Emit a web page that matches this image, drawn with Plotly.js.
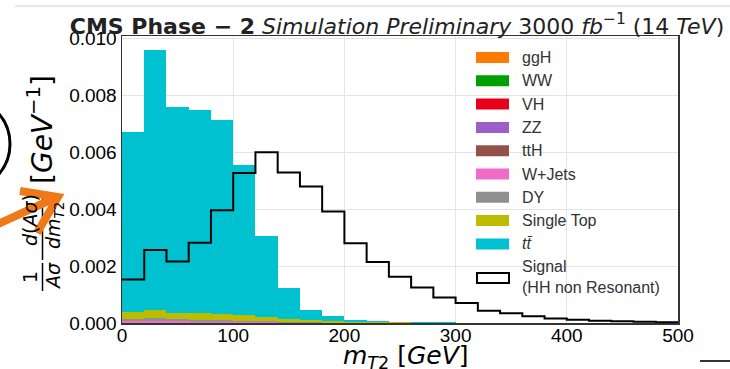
<!DOCTYPE html>
<html>
<head>
<meta charset="utf-8">
<script src="https://cdn.plot.ly/plotly-3.0.1.min.js"></script>
<style>html,body{margin:0;padding:0;background:#fff;}#chart{width:730px;height:369px;}</style>
</head>
<body>
<div id="chart"></div>
<script>
// bin edges (GeV)
const binEdges = [0,20,40,60,80,100,120,140,160,180,200,220,240,260,280,300,320,340,360,380,400,420,440,460,480,500];

// Background names (stack order bottom -> top) and colours
const bkgNames  = ["ggH","WW","VH","ZZ","ttH","W+Jets","DY","Single Top","<i>tt̄</i>"];
const bkgColors = ["#ff7a00","#00a000","#e8001c","#9c5ec8","#92524a","#f06cc8","#909090","#bcbc00","#00c1d0"];

// normalised contributions [1/GeV], one value per 20 GeV bin
const ggH  = [0.000003,0.000003,0.000002,0.000002,0.000002,0.000001,0.000001,0,0,0,0,0,0,0,0,0,0,0,0,0,0,0,0,0,0];
const WW   = [0.000003,0.000003,0.000002,0.000002,0.000002,0.000001,0.000001,0,0,0,0,0,0,0,0,0,0,0,0,0,0,0,0,0,0];
const VH   = [0.000002,0.000002,0.000002,0.000001,0.000001,0.000001,0.000001,0,0,0,0,0,0,0,0,0,0,0,0,0,0,0,0,0,0];
const ZZ   = [0.000005,0.000005,0.000004,0.000004,0.000003,0.000003,0.000002,0.000001,0,0,0,0,0,0,0,0,0,0,0,0,0,0,0,0,0];
const ttH  = [0.000003,0.000003,0.000003,0.000002,0.000002,0.000002,0.000001,0.000001,0,0,0,0,0,0,0,0,0,0,0,0,0,0,0,0,0];
const WJets= [0.00005,0.00005,0.00004,0.00004,0.00003,0.00003,0.00002,0.00001,0.00001,0.000005,0.000003,0,0,0,0,0,0,0,0,0,0,0,0,0,0];
const DY   = [0.00009,0.00011,0.00008,0.00007,0.00007,0.00005,0.00004,0.00003,0.00002,0.00001,0.00001,0.000005,0.000003,0,0,0,0,0,0,0,0,0,0,0,0];
const singleTop = [0.00023,0.00029,0.00023,0.00022,0.00022,0.00020,0.00014,0.00009,0.00007,0.00005,0.00003,0.00002,0.000015,0.00001,0.00001,0.000005,0.000004,0.000003,0.000002,0.000001,0,0,0,0,0];
const ttbar = [0.00635,0.00913,0.00723,0.00716,0.00680,0.00526,0.00286,0.00110,0.00037,0.00017,0.00005,0.00003,0.00002,0.00001,0.00001,0.000005,0.000003,0.000002,0.000001,0,0,0,0,0,0];
const signal = [0.00153,0.00257,0.00216,0.00282,0.00397,0.00528,0.00601,0.00530,0.00480,0.00392,0.00281,0.00215,0.00163,0.00125,0.00090,0.00070,0.00043,0.00034,0.00024,0.00016,0.00011,0.00008,0.00006,0.00004,0.00003];
const signalName = "Signal<br>(HH non Resonant)";

const yTicks = [0,0.002,0.004,0.006,0.008,0.010];
const xTicks = [0,100,200,300,400,500];

const bkgValues = [ggH,WW,VH,ZZ,ttH,WJets,DY,singleTop,ttbar];
const centers = binEdges.slice(0,-1).map((e,i)=> (e+binEdges[i+1])/2);
const widths  = binEdges.slice(0,-1).map((e,i)=> binEdges[i+1]-e);

const traces = bkgValues.map((vals,k)=>({
  type:'bar', x:centers, y:vals, width:widths, name:bkgNames[k],
  marker:{color:bkgColors[k], line:{width:0}}, showlegend:false, hoverinfo:'skip'
}));
traces.push({
  type:'scatter', mode:'lines', x:binEdges, y:signal.concat([signal[signal.length-1]]),
  line:{shape:'hv', color:'#000', width:2}, name:signalName, showlegend:false, hoverinfo:'skip'
});

// layout geometry
const W=730,H=369, mL=122, mR=52, mT=36, mB=46;
const pw=W-mL-mR, ph=H-mT-mB;
const px2x = p => (p-mL)/pw;
const py2y = p => 1-(p-mT)/ph;

const shapes=[], annotations=[];
// manual legend built from names/colours
const legTop = 57.5, legStep = 23.3;
const legFont = {family:'Liberation Sans, Arial, sans-serif', size:16, color:'#333'};
bkgNames.forEach((n,k)=>{
  const cy = legTop + k*legStep;
  shapes.push({type:'rect', xref:'paper', yref:'paper', x0:px2x(476), x1:px2x(509), y0:py2y(cy+5.5), y1:py2y(cy-5.5),
    fillcolor:bkgColors[k], line:{width:0}});
  annotations.push({xref:'paper', yref:'paper', x:px2x(520), y:py2y(cy), xanchor:'left', yanchor:'middle',
    text:n, showarrow:false, font:legFont});
});
shapes.push({type:'rect', xref:'paper', yref:'paper', x0:px2x(477), x1:px2x(509), y0:py2y(283), y1:py2y(273),
  fillcolor:'rgba(0,0,0,0)', line:{width:2, color:'#000'}});
annotations.push({xref:'paper', yref:'paper', x:px2x(520), y:py2y(277), xanchor:'left', yanchor:'middle', align:'left',
  text:signalName, showarrow:false, font:legFont});

// y-axis title pieces
const mathFont = {family:'DejaVu Sans', size:28, color:'#000'};
annotations.push({xref:'paper', yref:'paper', x:px2x(40), y:py2y(130), xanchor:'center', yanchor:'middle', textangle:-90,
  text:'[<i>GeV</i><sup>−1</sup>]', showarrow:false, font:mathFont});
const fracFont = {family:'DejaVu Sans', size:19, color:'#000'};
annotations.push({xref:'paper', yref:'paper', x:px2x(30), y:py2y(277), xanchor:'center', yanchor:'middle', textangle:-90,
  text:'1', showarrow:false, font:fracFont});
annotations.push({xref:'paper', yref:'paper', x:px2x(53), y:py2y(276), xanchor:'center', yanchor:'middle', textangle:-90,
  text:'<i>Aσ</i>', showarrow:false, font:fracFont});
annotations.push({xref:'paper', yref:'paper', x:px2x(30), y:py2y(220), xanchor:'center', yanchor:'middle', textangle:-90,
  text:'<i>d</i>(<i>Aσ</i>)', showarrow:false, font:fracFont});
annotations.push({xref:'paper', yref:'paper', x:px2x(54), y:py2y(226), xanchor:'center', yanchor:'middle', textangle:-90,
  text:'<i>dm</i><sub><i>T</i>2</sub>', showarrow:false, font:fracFont});
shapes.push({type:'line', xref:'paper', yref:'paper', x0:px2x(42.5), x1:px2x(42.5), y0:py2y(263), y1:py2y(291), line:{width:1.5,color:'#000'}});
shapes.push({type:'line', xref:'paper', yref:'paper', x0:px2x(42.5), x1:px2x(42.5), y0:py2y(191), y1:py2y(260), line:{width:1.5,color:'#000'}});

// x-axis title
annotations.push({xref:'paper', yref:'paper', x:px2x(406), y:py2y(357), xanchor:'center', yanchor:'middle',
  text:'<i>m</i><sub><i>T</i>2</sub> [<i>GeV</i>]', showarrow:false, font:{family:'DejaVu Sans', size:25, color:'#000'}});

// slide decorations around the chart
const P = (x,y)=> px2x(x)+','+py2y(y);
shapes.push({type:'path', xref:'paper', yref:'paper', layer:'above',
  path:'M'+P(-2,224)+' L'+P(57,197)+' M'+P(20,191)+' L'+P(58,197)+' L'+P(37,233),
  line:{width:8,color:'#f07818'}});
shapes.push({type:'circle', xref:'paper', yref:'paper', x0:px2x(-81), x1:px2x(10), y0:py2y(190), y1:py2y(98),
  line:{width:3,color:'#000'}, fillcolor:'rgba(0,0,0,0)'});
shapes.push({type:'line', xref:'paper', yref:'paper', x0:px2x(15), x1:px2x(730), y0:py2y(6), y1:py2y(6), line:{width:2,color:'#e6e6e6'}});
shapes.push({type:'line', xref:'paper', yref:'paper', x0:px2x(700), x1:px2x(730), y0:py2y(361), y1:py2y(361), line:{width:2,color:'#333'}});

const layout = {
  width:W, height:H, margin:{l:mL,r:mR,t:mT,b:mB,pad:0},
  paper_bgcolor:'#fff', plot_bgcolor:'#fff',
  barmode:'stack', bargap:0, showlegend:false,
  title:{text:'<b>CMS Phase − 2</b> <i>Simulation Preliminary</i> 3000 <i>fb</i><sup>−1</sup> (14 <i>TeV</i>)',
    font:{family:'DejaVu Sans', size:22, color:'#222'}, x:px2x(397), xref:'paper', xanchor:'center',
    y:1-26/H, yref:'container', yanchor:'middle'},
  xaxis:{range:[0,500], tickvals:xTicks, ticks:'', showgrid:true, gridcolor:'#e4e4e4', gridwidth:1,
    showline:true, linecolor:'#333', linewidth:1.5, mirror:true, zeroline:false, ticklabelstandoff:-5,
    tickfont:{family:'Liberation Sans, Arial, sans-serif', size:19, color:'#000'}},
  yaxis:{range:[0,0.0101], tickvals:yTicks, tickformat:'.3f', ticks:'', showgrid:true, gridcolor:'#e4e4e4', gridwidth:1,
    showline:true, linecolor:'#333', linewidth:1.5, mirror:true, zeroline:false,
    tickfont:{family:'Liberation Sans, Arial, sans-serif', size:19, color:'#000'}},
  shapes:shapes, annotations:annotations
};
Plotly.newPlot('chart', traces, layout, {staticPlot:true, displayModeBar:false});
</script>
</body>
</html>
